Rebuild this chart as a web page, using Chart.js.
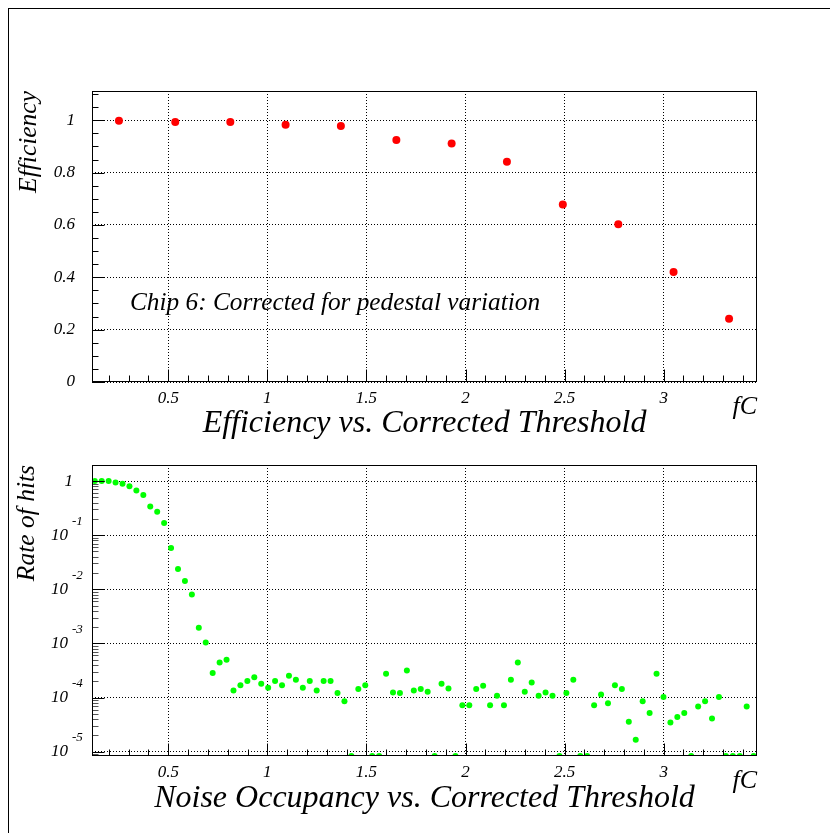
<!DOCTYPE html>
<html>
<head>
<meta charset="utf-8">
<title>Efficiency and noise occupancy vs. corrected threshold</title>
<script src="https://cdn.jsdelivr.net/npm/chart.js@4.4.1/dist/chart.umd.min.js"></script>
<style>
  html, body { margin: 0; padding: 0; background: #fff; }
  #page { position: relative; width: 830px; height: 833px; overflow: hidden; }
  #frame { position: absolute; left: 8px; top: 8px; width: 840px; height: 840px;
           border-left: 1px solid #000; border-top: 1px solid #000; }
  canvas { position: absolute; left: 0; }
  #eff { top: 0; }
  #noise { top: 445px; }
</style>
</head>
<body>
<div id="page">
  <div id="frame"></div>
  <canvas id="eff" width="830" height="445"></canvas>
  <canvas id="noise" width="830" height="388"></canvas>
</div>
<script>
// Efficiency scan (chip 6, pedestal-corrected thresholds in fC)
const EFF_THRESHOLD = [0.251, 0.535, 0.813, 1.092, 1.371, 1.651, 1.930, 2.209, 2.491, 2.771, 3.050, 3.330];
const EFF_VALUE = [0.998, 0.994, 0.994, 0.983, 0.978, 0.925, 0.911, 0.842, 0.678, 0.603, 0.420, 0.242];

// Noise occupancy scan; 0 means no hits recorded in that bin
const NOISE_THRESHOLD = [
  0.129, 0.164, 0.199, 0.234, 0.269, 0.304, 0.339, 0.374, 0.409, 0.444,
  0.479, 0.514, 0.549, 0.584, 0.619, 0.654, 0.689, 0.724, 0.759, 0.794,
  0.829, 0.864, 0.899, 0.934, 0.969, 1.004, 1.039, 1.074, 1.109, 1.144,
  1.179, 1.214, 1.249, 1.284, 1.319, 1.354, 1.389, 1.424, 1.459, 1.494,
  1.529, 1.564, 1.599, 1.634, 1.669, 1.704, 1.739, 1.774, 1.809, 1.844,
  1.879, 1.914, 1.949, 1.984, 2.019, 2.054, 2.089, 2.124, 2.159, 2.194,
  2.229, 2.264, 2.299, 2.334, 2.369, 2.404, 2.439, 2.474, 2.509, 2.544,
  2.579, 2.614, 2.649, 2.684, 2.719, 2.754, 2.789, 2.824, 2.859, 2.894,
  2.929, 2.964, 2.999, 3.034, 3.069, 3.104, 3.139, 3.174, 3.209, 3.244,
  3.279, 3.314, 3.349, 3.384, 3.419, 3.454
];
const NOISE_RATE = [
  1.0, 1.0, 1.0, 0.945, 0.89, 0.80, 0.67, 0.55, 0.34, 0.27,
  0.167, 0.0578, 0.0236, 0.0142, 0.0080, 0.00195, 0.00104, 2.83e-4, 4.45e-4, 4.98e-4,
  1.35e-4, 1.69e-4, 2.01e-4, 2.38e-4, 1.79e-4, 1.51e-4, 2.01e-4, 1.69e-4, 2.52e-4, 2.12e-4,
  1.51e-4, 2.01e-4, 1.35e-4, 2.01e-4, 2.01e-4, 1.21e-4, 8.57e-5, 0, 1.43e-4, 1.69e-4,
  0, 0, 2.74e-4, 1.24e-4, 1.21e-4, 3.17e-4, 1.35e-4, 1.43e-4, 1.28e-4, 0,
  1.79e-4, 1.47e-4, 0, 7.23e-5, 7.23e-5, 1.43e-4, 1.65e-4, 7.23e-5, 1.08e-4, 7.23e-5,
  2.12e-4, 4.45e-4, 1.28e-4, 1.90e-4, 1.08e-4, 1.24e-4, 1.08e-4, 0, 1.21e-4, 2.12e-4,
  0, 0, 7.23e-5, 1.14e-4, 7.87e-5, 1.69e-4, 1.43e-4, 3.56e-5, 1.65e-5, 8.57e-5,
  5.15e-5, 2.74e-4, 1.02e-4, 3.47e-5, 4.34e-5, 5.15e-5, 0, 6.84e-5, 8.57e-5, 4.11e-5,
  1.02e-4, 0, 0, 0, 6.84e-5, 0
];

const X_TICKS = [0.5, 1, 1.5, 2, 2.5, 3];
const EFF_TICKS = [0, 0.2, 0.4, 0.6, 0.8, 1];
const RATE_TICKS = [1e-5, 1e-4, 1e-3, 1e-2, 1e-1, 1];

const X_MIN = 0.115, X_MAX = 3.471;
const RATE_MIN = 8.3e-6, RATE_MAX = 1.98;

const SERIF = 'Liberation Serif, Times New Roman, serif';
const font = (size) => ({ family: SERIF, style: 'italic', size });

function steps(from, to, step) {
  const out = [];
  for (let i = 0; from + i * step <= to + 1e-9; i++) out.push(+(from + i * step).toFixed(4));
  return out;
}
function decadeSteps(min, max) {
  const out = [];
  for (let k = -7; k <= 1; k++) {
    for (let m = 1; m <= 9; m++) {
      const v = m * Math.pow(10, k);
      if (v >= min && v <= max) out.push(v);
    }
  }
  return out;
}
const near = (v, list) => list.some((t) => Math.abs(t - v) < 1e-9 * Math.max(1, Math.abs(t)) || Math.abs(t - v) / t < 1e-6);

// ROOT-like frame: box, inward tick marks, extra labels
const axisDecor = {
  id: 'axisDecor',
  afterDatasetsDraw(chart, args, opts) {
    const { ctx, chartArea: a, scales: { x, y } } = chart;
    const L = Math.round(a.left) + 0.5, R = Math.round(a.right) - 0.5;
    const T = Math.round(a.top) + 0.5, B = Math.round(a.bottom) - 0.5;
    ctx.save();
    ctx.lineWidth = 1;
    ctx.strokeStyle = '#000';
    ctx.beginPath();
    opts.xMarks.forEach((v) => {
      const px = Math.round(x.getPixelForValue(v)) + 0.5;
      ctx.moveTo(px, B);
      ctx.lineTo(px, B - (near(v, X_TICKS) ? 12 : 6));
    });
    ctx.stroke();
    ctx.strokeStyle = opts.yMinorColor || '#000';
    ctx.beginPath();
    opts.yMarks.forEach((v) => {
      if (near(v, opts.yMajor)) return;
      const py = Math.round(y.getPixelForValue(v)) + 0.5;
      ctx.moveTo(L, py);
      ctx.lineTo(L + 6, py);
    });
    ctx.stroke();
    ctx.strokeStyle = '#000';
    ctx.beginPath();
    opts.yMajor.forEach((v) => {
      const py = Math.round(y.getPixelForValue(v)) + 0.5;
      ctx.moveTo(L, py);
      ctx.lineTo(L + 12, py);
    });
    ctx.stroke();
    ctx.strokeRect(L, T, R - L, B - T);

    ctx.fillStyle = '#000';
    // unit on the x axis
    ctx.font = 'italic 26px ' + SERIF;
    ctx.textAlign = 'right';
    ctx.textBaseline = 'alphabetic';
    ctx.fillText('fC', a.right, a.bottom + 32);

    if (opts.note) {
      ctx.font = 'italic 25.3px ' + SERIF;
      ctx.textAlign = 'left';
      ctx.fillText(opts.note, 130, 310);
    }

    if (opts.powerLabels) {
      ctx.textBaseline = 'middle';
      opts.yMajor.forEach((v) => {
        const py = y.getPixelForValue(v);
        const exp = Math.round(Math.log10(v));
        ctx.textAlign = 'right';
        ctx.font = 'italic 17px ' + SERIF;
        if (exp === 0) {
          ctx.fillText('1', 73, py);
          return;
        }
        ctx.fillText('10', 68, py);
        ctx.textAlign = 'left';
        ctx.font = 'italic 13px ' + SERIF;
        ctx.fillText(String(exp), 72, py - 14);
      });
    }
    ctx.restore();
  }
};

function xScale(height, titleText, titlePad) {
  return {
    type: 'linear',
    min: X_MIN,
    max: X_MAX,
    afterBuildTicks: (s) => { s.ticks = X_TICKS.map((value) => ({ value })); },
    afterFit: (s) => { s.height = height; },
    ticks: { font: font(17), color: '#000', padding: 6, maxRotation: 0, autoSkip: false,
             callback: (v) => String(v) },
    grid: { color: '#000', lineWidth: 1, drawTicks: false },
    border: { display: false, dash: [1, 2] },
    title: { display: true, text: titleText, font: font(32), color: '#000',
             padding: { top: 0, bottom: titlePad } }
  };
}

const base = {
  responsive: false,
  animation: false,
  events: [],
  plugins: { legend: { display: false }, tooltip: { enabled: false } }
};

new Chart(document.getElementById('eff'), {
  type: 'scatter',
  data: {
    datasets: [{
      data: EFF_THRESHOLD.map((x, i) => ({ x, y: EFF_VALUE[i] })),
      pointRadius: 4,
      pointBorderWidth: 0,
      pointBackgroundColor: '#ff0000'
    }]
  },
  options: {
    ...base,
    layout: { padding: { top: 91, right: 73, left: 0, bottom: 0 } },
    plugins: {
      ...base.plugins,
      axisDecor: {
        xMarks: steps(0.2, 3.4, 0.1),
        yMarks: steps(0, 1.1, 0.05),
        yMajor: EFF_TICKS,
        note: 'Chip 6: Corrected for pedestal variation'
      }
    },
    scales: {
      x: xScale(63, 'Efficiency vs. Corrected Threshold', 2),
      y: {
        type: 'linear',
        min: 0,
        max: 1.112,
        afterBuildTicks: (s) => { s.ticks = EFF_TICKS.map((value) => ({ value })); },
        afterFit: (s) => { s.width = 92; },
        ticks: { font: font(17), color: '#000', padding: 17, callback: (v) => String(v) },
        grid: { color: '#000', lineWidth: 1, drawTicks: false },
        border: { display: false, dash: [1, 2] },
        title: { display: true, text: 'Efficiency', align: 'end', font: font(25.5), color: '#000',
                 padding: { top: 14, bottom: 0 } }
      }
    }
  },
  plugins: [axisDecor]
});

new Chart(document.getElementById('noise'), {
  type: 'scatter',
  data: {
    datasets: [{
      // empty bins sit on the lower edge of the log axis
      data: NOISE_THRESHOLD.map((x, i) => ({ x, y: NOISE_RATE[i] > 0 ? NOISE_RATE[i] : RATE_MIN })),
      pointRadius: 3,
      pointBorderWidth: 0,
      pointBackgroundColor: '#00ff00'
    }]
  },
  options: {
    ...base,
    layout: { padding: { top: 20, right: 73, left: 0, bottom: 0 } },
    plugins: {
      ...base.plugins,
      axisDecor: {
        xMarks: steps(0.2, 3.4, 0.1),
        yMarks: decadeSteps(RATE_MIN, RATE_MAX),
        yMajor: RATE_TICKS,
        yMinorColor: '#555',
        powerLabels: true
      }
    },
    scales: {
      x: xScale(77, 'Noise Occupancy vs. Corrected Threshold', 15),
      y: {
        type: 'logarithmic',
        min: RATE_MIN,
        max: RATE_MAX,
        afterBuildTicks: (s) => { s.ticks = RATE_TICKS.map((value) => ({ value })); },
        afterFit: (s) => { s.width = 92; },
        ticks: { display: false },
        grid: { color: '#000', lineWidth: 1, drawTicks: false },
        border: { display: false, dash: [1, 2] },
        title: { display: true, text: 'Rate of hits', align: 'end', font: font(25.5), color: '#000',
                 padding: { top: 12, bottom: 0 } }
      }
    }
  },
  plugins: [axisDecor]
});
</script>
</body>
</html>
